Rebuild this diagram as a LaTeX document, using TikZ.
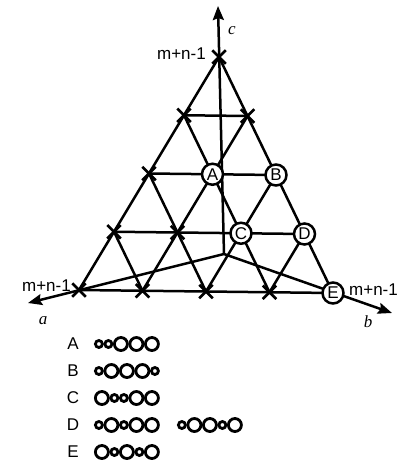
\documentclass[tikz,border=0pt]{standalone}
\usepackage{fontspec}
\setmainfont{Liberation Sans}
\newfontfamily\axisfont{Liberation Serif}
\usetikzlibrary{arrows.meta,shapes.misc}
\tikzset{
  gridline/.style={line width=2.5pt, line cap=round},
  axisline/.style={line width=2.5pt, -{Stealth[length=14pt,width=11pt,inset=2pt]}},
  vmark/.style={cross out, draw, line width=2.5pt, minimum size=11pt, inner sep=0pt},
  state/.style={circle, draw, line width=2.5pt, fill=white, minimum size=21pt, inner sep=0pt, font=\fontsize{17}{17}\selectfont},
  lab/.style={font=\fontsize{17}{19}\selectfont, inner sep=0pt},
  axlab/.style={font=\fontsize{17}{19}\selectfont\axisfont\itshape, inner sep=0pt},
  bead/.style={line width=2.8pt},
}
\newcommand\beadchain[3]{%
  \gdef\cx{#1}%
  \foreach \t in {#3}{%
    \if S\t \def\rr{4.9}\else \def\rr{7.9}\fi
    \pgfmathsetmacro\cc{\cx+\rr}%
    \pgfmathsetmacro\ri{\rr-1.4}%
    \draw[bead] (\cc,#2) circle[radius=\ri];
    \pgfmathsetmacro\nx{\cx+2*\rr-0.3}%
    \xdef\cx{\nx}%
  }}
\begin{document}
\begin{tikzpicture}[x=1pt,y=-1pt]
\useasboundingbox (0,0) rectangle (402,466);
% lattice points
\foreach \i in {0,...,4}{
  \foreach \j in {0,...,\i}{
    \pgfmathsetmacro\px{219-35*(\i-\j)+28.5*\j}
    \pgfmathsetmacro\py{57+58.25*(\i-\j)+59*\j}
    \coordinate (p\i\j) at (\px,\py);
  }
}
% axes
\coordinate (O) at (224,254);
\coordinate (atip) at (28,303);
\coordinate (btip) at (392,313);
\coordinate (ctip) at (218,6);
\draw[axisline] (O) -- (atip);
\draw[axisline] (O) -- (btip);
\draw[axisline] (O) -- (ctip);
% grid
\draw[gridline] (p10) -- (p11);
\draw[gridline] (p20) -- (p22);
\draw[gridline] (p30) -- (p33);
\draw[gridline] (p40) -- (p44);
\draw[gridline] (p00) -- (p40);
\draw[gridline] (p11) -- (p41);
\draw[gridline] (p22) -- (p42);
\draw[gridline] (p33) -- (p43);
\draw[gridline] (p00) -- (p44);
\draw[gridline] (p10) -- (p43);
\draw[gridline] (p20) -- (p42);
\draw[gridline] (p30) -- (p41);
% crosses
\foreach \n in {00,10,11,20,30,31,40,41,42,43}{
  \node[vmark] (x\n) at (p\n) {};
}
% states
\node[state] (A) at (p21) {A};
\node[state] (B) at (p22) {B};
\node[state] (C) at (p32) {C};
\node[state] (D) at (p33) {D};
\node[state] (E) at (p44) {E};
% labels
\node[lab, anchor=east] (ltop) at (206,54) {m+n-1};
\node[lab, anchor=east] (lleft) at (71,286) {m+n-1};
\node[lab, anchor=west] (lright) at (349,290) {m+n-1};
\node[axlab] (la) at (43,321) {a};
\node[axlab] (lb) at (368,322) {b};
\node[axlab] (lc) at (232,31) {c};
% legend
\node[lab] (kA) at (73,344) {A};
\node[lab] (kB) at (73,371) {B};
\node[lab] (kC) at (73,398) {C};
\node[lab] (kD) at (73,425) {D};
\node[lab] (kE) at (73,452) {E};
\beadchain{94}{344}{S,S,L,L,L}
\beadchain{94}{371}{S,L,L,L,S}
\beadchain{94}{398}{L,S,S,L,L}
\beadchain{94}{425}{S,L,S,L,L}
\beadchain{177}{425}{S,L,L,S,L}
\beadchain{94}{452}{L,S,L,S,L}
\end{tikzpicture}
\end{document}
